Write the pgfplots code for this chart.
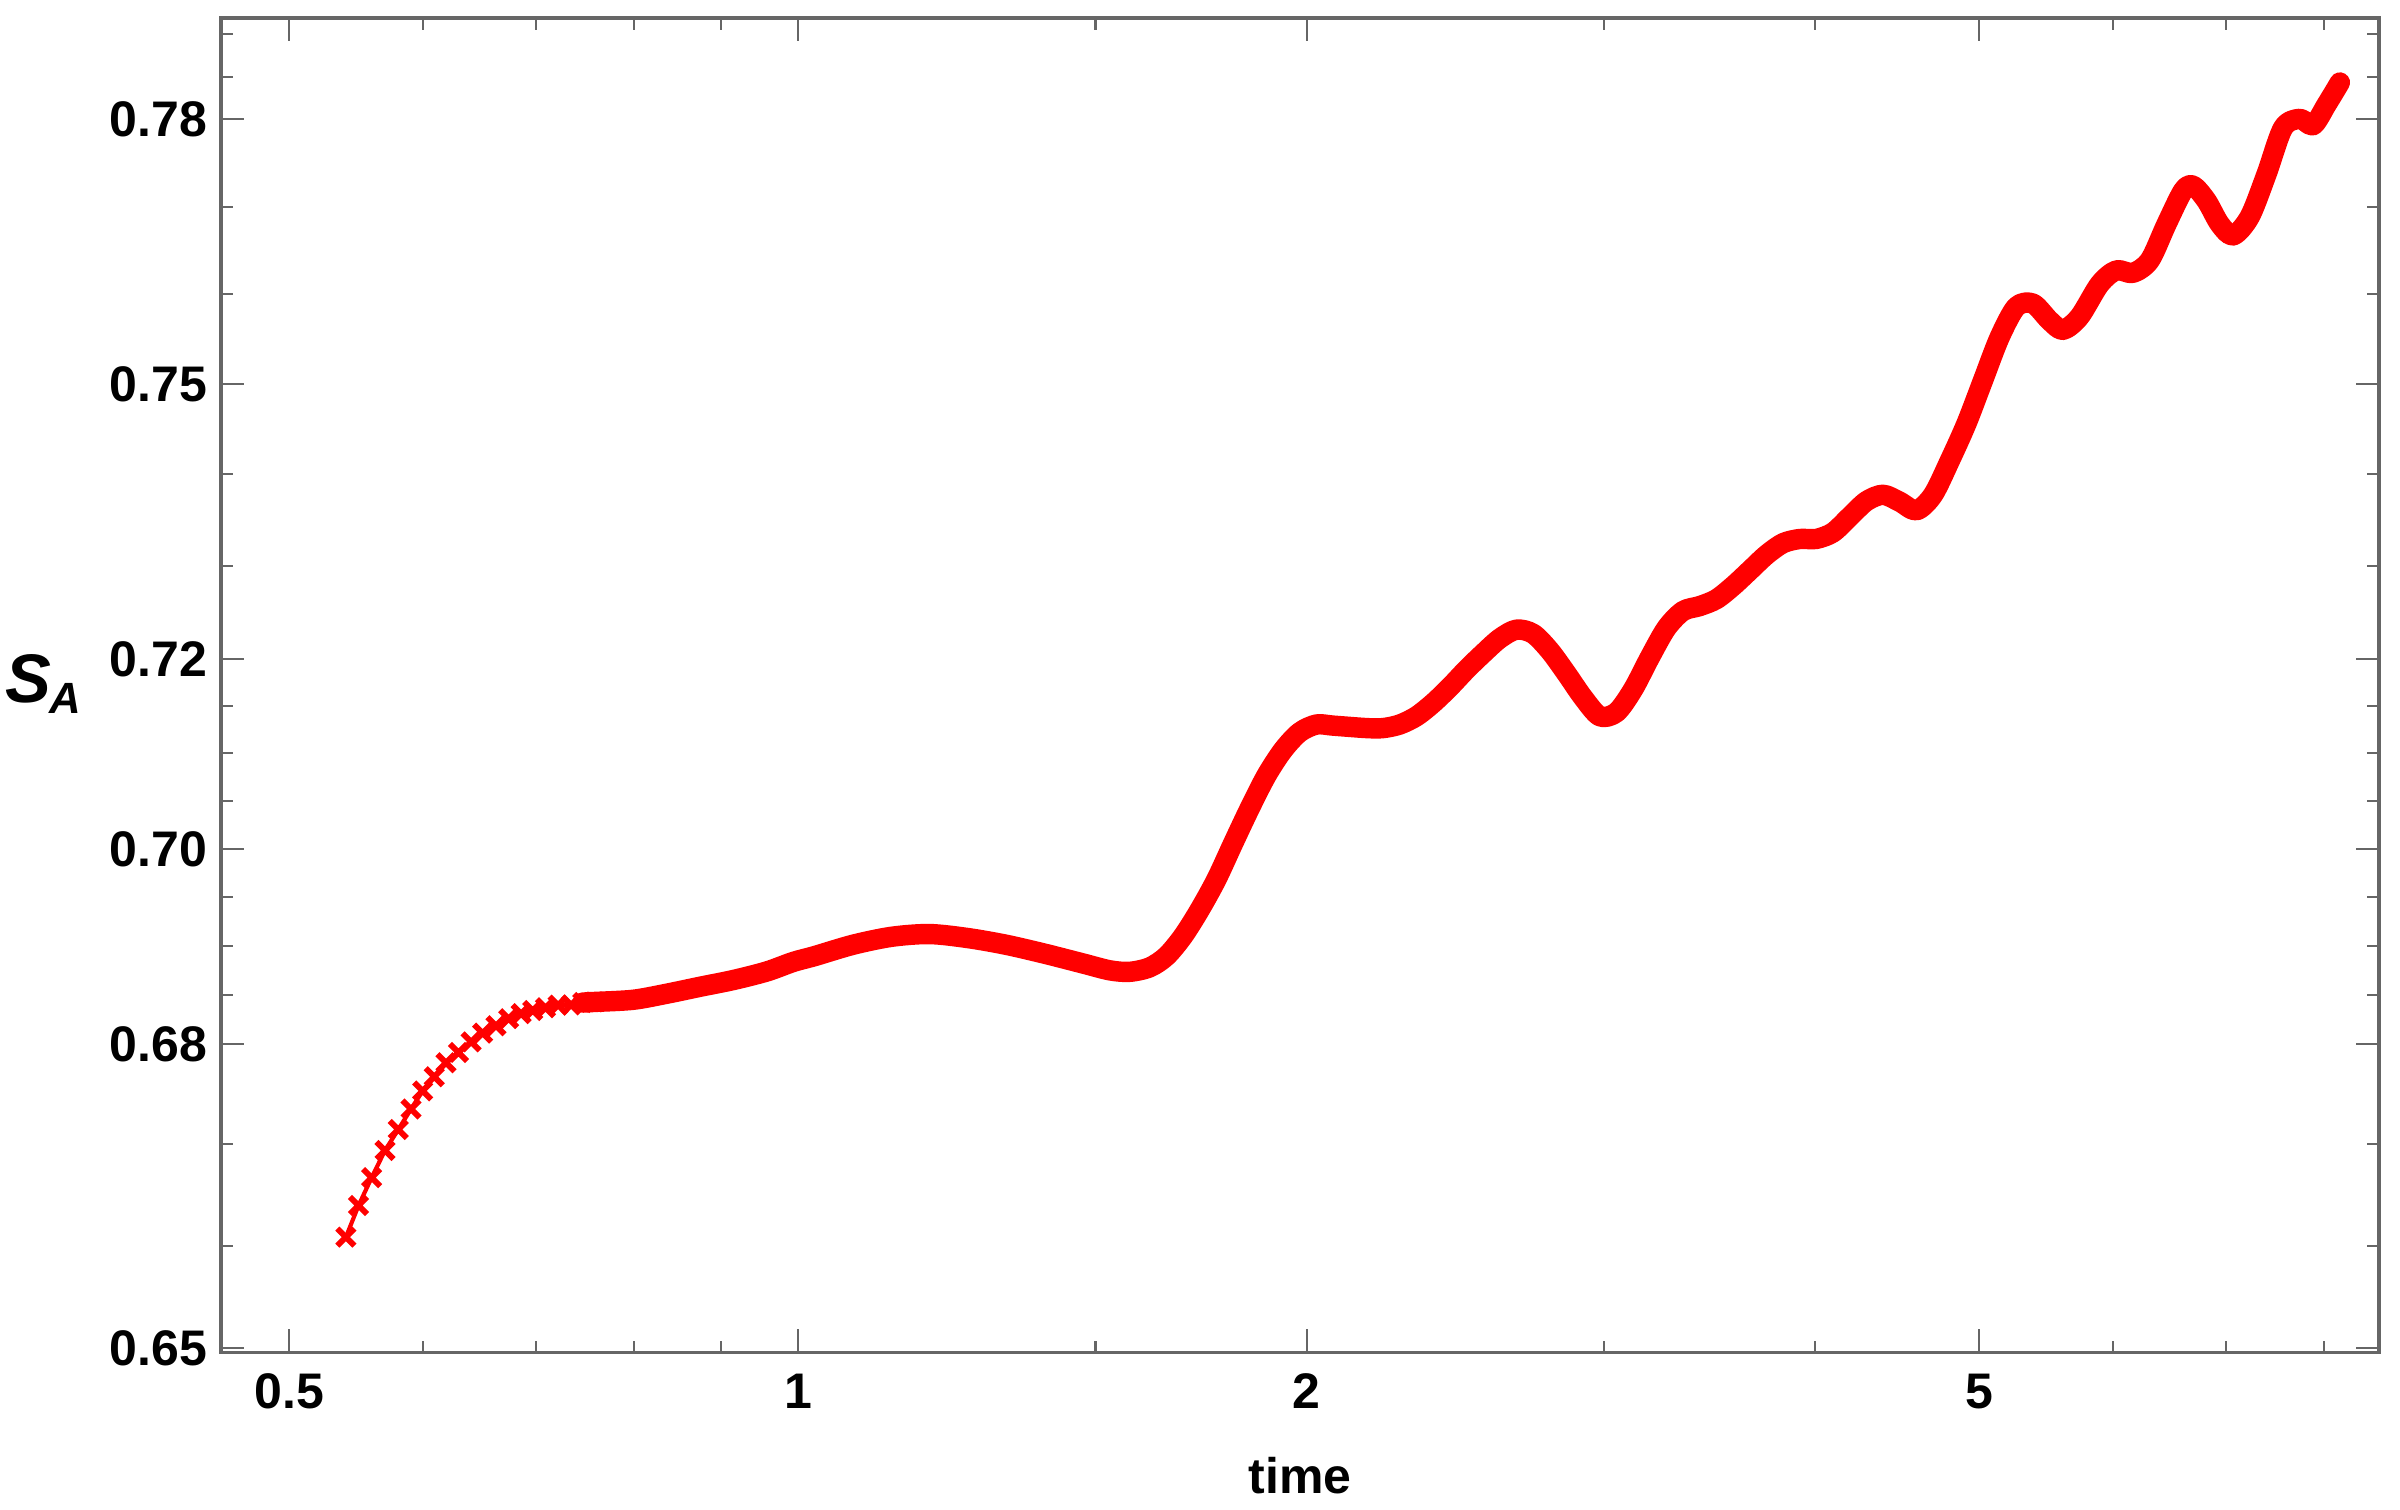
\documentclass[border=0pt]{standalone}
\usepackage{fontspec}
\setmainfont{Liberation Sans}
\usepackage{pgfplots}
\pgfplotsset{compat=1.18}

\begin{document}
\begin{tikzpicture}
\begin{axis}[
  name=ax,
  scale only axis,
  width=517.9pt, height=320.2pt,
  xmode=log, ymode=log,
  xmin=0.4556, xmax=8.622,
  ymin=0.6496, ymax=0.7918,
  xtick={0.5,1,2,5}, xticklabels={0.5,1,2,5},
  minor xtick={0.6,0.7,0.8,0.9,1.5,3,4,6,7,8},
  ytick={0.65,0.68,0.70,0.72,0.75,0.78},
  yticklabels={0.65,0.68,0.70,0.72,0.75,0.78},
  minor ytick={0.66,0.67,0.685,0.69,0.695,0.705,0.71,0.715,0.73,0.74,0.76,0.77,0.785,0.79},
  tick align=inside,
  major tick length=5.6pt, minor tick length=2.8pt,
  axis line style={draw=black!60, line width=0.75pt},
  tick style={draw=black!60, line width=0.5pt},
  /pgf/number format/assume math mode=true,
  tick label style={font=\fontsize{12}{14}\selectfont\bfseries, inner sep=0pt},
  xticklabel style={yshift=-5pt},
  yticklabel style={xshift=-3.1pt},
  every axis x label/.style={at={(axis description cs:0.5,0)}, anchor=base,
    yshift=-33.8pt, font=\fontsize{12}{14}\selectfont\bfseries},
  xlabel={time},
  every axis y label/.style={at={(axis description cs:0,0.5)}, anchor=base west,
    inner sep=0pt, xshift=-51.8pt, yshift=-4.1pt},
  ylabel={\fontsize{16.5}{19}\selectfont\bfseries\itshape S\kern-0.5pt\raisebox{-2.8pt}{\fontsize{10.5}{12}\selectfont A}},
]
% sparse start: separate cross markers
\addplot[color=red, line width=1pt, mark=x, mark size=2.9pt,
         mark options={line width=1.4pt, solid}]
  coordinates {
    (0.5401,0.6608)(0.5495,0.6639)(0.5594,0.6667)(0.5697,0.6694)(0.5801,0.6714)
    (0.5903,0.6735)(0.5997,0.6753)(0.6093,0.6767)(0.6191,0.6781)(0.6298,0.6792)
    (0.6406,0.6802)(0.6508,0.6811)(0.6628,0.6819)(0.6743,0.6826)(0.6858,0.6831)
    (0.6968,0.6834)(0.7089,0.6837)(0.7212,0.6839)(0.7342,0.6840)(0.7459,0.6842)
    (0.7579,0.6843)};
% dense part: markers merge into a band
\addplot[color=red, line width=4.9pt, line cap=round, line join=round, smooth]
  coordinates {
    (0.7459,0.6842)(0.7579,0.6843)(0.7989,0.6845)(0.8363,0.6851)(0.8748,0.6858)
    (0.9156,0.6865)(0.9583,0.6874)(0.9936,0.6883)(1.0232,0.6890)(1.0779,0.6901)
    (1.1357,0.6909)(1.1963,0.6912)(1.2605,0.6908)(1.3278,0.6901)(1.3989,0.6892)
    (1.4738,0.6882)(1.5300,0.6875)(1.5719,0.6873)(1.6153,0.6878)(1.6525,0.6890)
    (1.6903,0.6910)(1.7292,0.6937)(1.7690,0.6969)(1.8094,0.7005)(1.8510,0.7042)
    (1.8936,0.7076)(1.9369,0.7103)(1.9815,0.7122)(2.0271,0.7130)(2.0735,0.7129)
    (2.1700,0.7127)(2.2197,0.7127)(2.2708,0.7130)(2.3230,0.7139)(2.3762,0.7153)
    (2.4309,0.7170)(2.4868,0.7189)(2.5437,0.7206)(2.6022,0.7222)(2.6621,0.7231)
    (2.7230,0.7227)(2.7857,0.7209)(2.8498,0.7184)(2.9150,0.7159)(2.9821,0.7139)
    (3.0507,0.7143)(3.1205,0.7167)(3.1923,0.7202)(3.2658,0.7233)(3.3405,0.7251)
    (3.4174,0.7257)(3.4960,0.7264)(3.5760,0.7278)(3.6583,0.7295)(3.7425,0.7312)
    (3.8281,0.7325)(3.9161,0.7329)(4.0062,0.7330)(4.0978,0.7337)(4.1922,0.7354)
    (4.2886,0.7371)(4.3866,0.7378)(4.4875,0.7370)(4.5907,0.7361)(4.6958,0.7377)
    (4.8038,0.7415)(4.9143,0.7456)(5.0267,0.7504)(5.1423,0.7552)(5.2605,0.7586)
    (5.3808,0.7590)(5.5045,0.7571)(5.6051,0.7560)(5.7340,0.7575)(5.8926,0.7612)
    (6.0281,0.7627)(6.1661,0.7625)(6.3096,0.7639)(6.4548,0.7680)(6.6024,0.7718)
    (6.6930,0.7724)(6.8164,0.7707)(6.9411,0.7680)(7.0680,0.7667)(7.2307,0.7688)
    (7.3971,0.7737)(7.5664,0.7791)(7.7405,0.7801)(7.8822,0.7793)(8.0275,0.7818)
    (8.1743,0.7843)};
\end{axis}
\pgfresetboundingbox
\path[use as bounding box] ([shift={(-53.04pt,-37.68pt)}]ax.south west)
  rectangle ([shift={(5.04pt,4.32pt)}]ax.north east);
\end{tikzpicture}
\end{document}
